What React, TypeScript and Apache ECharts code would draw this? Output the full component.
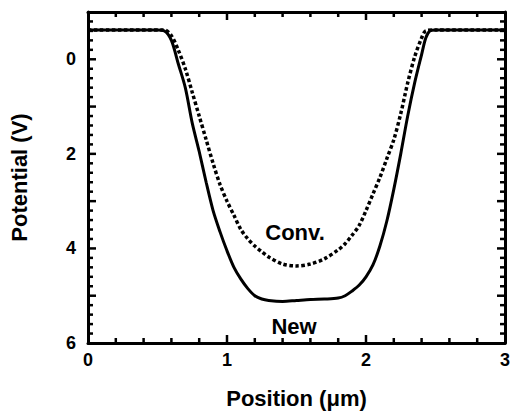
import React, { useEffect, useRef } from "react";
import * as echarts from "echarts";

const newX = [0, 0.5, 0.55, 0.6, 0.65, 0.7, 0.75, 0.8, 0.85, 0.9, 0.95, 1.0, 1.05, 1.1, 1.15, 1.2, 1.25, 1.3, 1.4, 1.5, 1.6, 1.7, 1.8, 1.85, 1.9, 1.95, 2.0, 2.05, 2.1, 2.15, 2.2, 2.25, 2.3, 2.35, 2.4, 2.43, 2.46, 2.5, 3];
const newY = [-0.62, -0.62, -0.6, -0.4, 0.1, 0.6, 1.35, 1.95, 2.6, 3.2, 3.65, 4.05, 4.4, 4.65, 4.85, 5.0, 5.07, 5.1, 5.12, 5.1, 5.08, 5.07, 5.05, 5.0, 4.9, 4.78, 4.6, 4.35, 3.95, 3.42, 2.75, 2.0, 1.2, 0.5, -0.1, -0.45, -0.6, -0.62, -0.62];

const convX = [0, 0.55, 0.6, 0.65, 0.7, 0.75, 0.8, 0.85, 0.9, 0.95, 1.0, 1.05, 1.1, 1.15, 1.2, 1.25, 1.3, 1.4, 1.5, 1.6, 1.7, 1.8, 1.85, 1.9, 1.95, 2.0, 2.05, 2.1, 2.15, 2.2, 2.25, 2.3, 2.35, 2.4, 2.43, 2.5, 3];
const convY = [-0.62, -0.62, -0.5, -0.19, 0.2, 0.7, 1.2, 1.7, 2.2, 2.65, 3.0, 3.3, 3.6, 3.8, 3.95, 4.07, 4.18, 4.33, 4.37, 4.33, 4.22, 4.03, 3.9, 3.72, 3.52, 3.2, 2.85, 2.5, 2.1, 1.7, 1.15, 0.5, -0.05, -0.45, -0.6, -0.62, -0.62];

const xMajorTicks = [1, 2];
const xMinorTicks = [0.2, 0.4, 0.6, 0.8, 1.2, 1.4, 1.6, 1.8, 2.2, 2.4, 2.6, 2.8];
const yMajorTicks = [0, 1, 2, 3, 4, 5];
const yMinorTicks = [-0.8, -0.6, -0.4, -0.2, 0.2, 0.4, 0.6, 0.8, 1.2, 1.4, 1.6, 1.8, 2.2, 2.4, 2.6, 2.8, 3.2, 3.4, 3.6, 3.8, 4.2, 4.4, 4.6, 4.8, 5.2, 5.4, 5.6, 5.8];
const yTickLabels = [0, 2, 4, 6];

const X_MIN = 0;
const X_MAX = 3;
const Y_MIN = -1;
const Y_MAX = 6;

const FONT = "'Liberation Sans', Arial, sans-serif";

function tickSeries(points: number[][], size: number[], offset: number[]) {
  return {
    type: "scatter",
    silent: true,
    clip: false,
    z: 4,
    symbol: "rect",
    symbolSize: size,
    symbolOffset: offset,
    itemStyle: { color: "#000", opacity: 1 },
    emphasis: { disabled: true },
    data: points,
  };
}

export default function App() {
  const ref = useRef<HTMLDivElement>(null);
  useEffect(() => {
    if (!ref.current) return;
    const chart = echarts.init(ref.current, undefined, { renderer: "svg" });
    const axisLine = () => ({ show: true, onZero: false, lineStyle: { color: "#000", width: 3 } });
    const xCommon = () => ({
      type: "value" as const,
      min: X_MIN,
      max: X_MAX,
      interval: 1,
      axisLine: axisLine(),
      axisTick: { show: false },
      splitLine: { show: false },
    });
    const yCommon = () => ({
      type: "value" as const,
      min: Y_MIN,
      max: Y_MAX,
      interval: 1,
      inverse: true,
      axisLine: axisLine(),
      axisTick: { show: false },
      splitLine: { show: false },
    });
    const W = 2.5;
    const MAJ = 8;
    const MIN = 5;
    chart.setOption({
      animation: false,
      backgroundColor: "#fff",
      grid: { left: 87, right: 3, top: 12, bottom: 67 },
      xAxis: [
        {
          ...xCommon(),
          position: "bottom",
          name: "Position (\u03bcm)",
          nameLocation: "middle",
          nameGap: 44,
          nameTextStyle: { color: "#000", fontSize: 22, fontWeight: "bold", fontFamily: FONT },
          axisLabel: { color: "#000", fontSize: 18, fontWeight: "bold", fontFamily: FONT, margin: 8 },
        },
        { ...xCommon(), position: "top", axisLabel: { show: false } },
      ],
      yAxis: [
        {
          ...yCommon(),
          position: "left",
          name: "Potential (V)",
          nameLocation: "middle",
          nameGap: 58,
          nameTextStyle: { color: "#000", fontSize: 22, fontWeight: "bold", fontFamily: FONT },
          axisLabel: {
            color: "#000",
            fontSize: 18,
            fontWeight: "bold",
            fontFamily: FONT,
            margin: 12,
            formatter: (v: number) => (yTickLabels.includes(v) ? String(v) : ""),
          },
        },
        { ...yCommon(), position: "right", axisLabel: { show: false } },
      ],
      series: [
        {
          name: "New",
          type: "line",
          data: newX.map((x, i) => [x, newY[i]]),
          smooth: 0.3,
          showSymbol: false,
          lineStyle: { color: "#000", width: 3 },
        },
        {
          name: "Conv.",
          type: "line",
          data: convX.map((x, i) => [x, convY[i]]),
          smooth: 0.3,
          showSymbol: false,
          lineStyle: { color: "#000", width: 3.5, type: [3.5, 2.5] },
        },
        // bottom edge ticks
        tickSeries(xMajorTicks.map((v) => [v, Y_MAX]), [W, MAJ], [0, -MAJ / 2]),
        tickSeries(xMinorTicks.map((v) => [v, Y_MAX]), [W, MIN], [0, -MIN / 2]),
        // top edge ticks
        tickSeries(xMajorTicks.map((v) => [v, Y_MIN]), [W, MAJ], [0, MAJ / 2]),
        tickSeries(xMinorTicks.map((v) => [v, Y_MIN]), [W, MIN], [0, MIN / 2]),
        // left edge ticks
        tickSeries(yMajorTicks.map((v) => [X_MIN, v]), [MAJ, W], [MAJ / 2, 0]),
        tickSeries(yMinorTicks.map((v) => [X_MIN, v]), [MIN, W], [MIN / 2, 0]),
        // right edge ticks
        tickSeries(yMajorTicks.map((v) => [X_MAX, v]), [MAJ, W], [-MAJ / 2, 0]),
        tickSeries(yMinorTicks.map((v) => [X_MAX, v]), [MIN, W], [-MIN / 2, 0]),
      ],
      graphic: [
        {
          type: "text",
          x: 295,
          y: 232,
          style: { text: "Conv.", fill: "#000", font: `bold 22px ${FONT}`, align: "center", verticalAlign: "middle" },
        },
        {
          type: "text",
          x: 294,
          y: 326,
          style: { text: "New", fill: "#000", font: `bold 22px ${FONT}`, align: "center", verticalAlign: "middle" },
        },
      ],
    });
    return () => chart.dispose();
  }, []);
  return <div ref={ref} style={{ width: 513, height: 414, position: "absolute", left: 0, top: 0 }} />;
}
